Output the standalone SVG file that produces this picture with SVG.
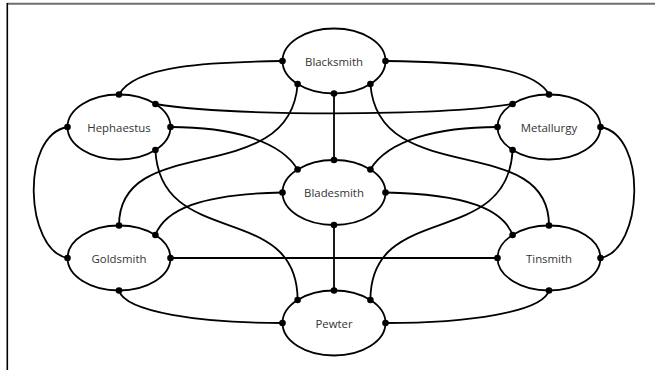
<svg xmlns="http://www.w3.org/2000/svg" width="655" height="370" viewBox="0 0 655 370">
  <style>
    .edge { fill: none; stroke: #000; stroke-width: 1.8; }
    .node ellipse { fill: #fff; stroke: #000; stroke-width: 1.8; }
    .node text { font-family: "Open Sans", "Liberation Sans", sans-serif; font-size: 11.4px; fill: #333; text-anchor: middle; }
    .port { fill: #000; }
  </style>
  <rect width="655" height="370" fill="#fff"/>
  <!-- frame: top and left edges -->
  <line x1="7" y1="3.8" x2="655" y2="3.8" stroke="#6e6e6e" stroke-width="2"/>
  <line x1="7.3" y1="3" x2="7.3" y2="370" stroke="#000" stroke-width="1.6"/>

  <g id="connectors">
    <path class="edge" d="M282.5 61 C210 62 135 65 119 94.5"/>
    <path class="edge" d="M385.5 61 C458 62 533 65 549 94.5"/>
    <path class="edge" d="M334 93.5 V160"/>
    <path class="edge" d="M297.6 84 C290 190 119 130 119 225.5"/>
    <path class="edge" d="M370.4 84 C378 190 549 130 549 225.5"/>
    <path class="edge" d="M155.4 104 C230 116.4 438 116.4 512.6 104"/>
    <path class="edge" d="M170.5 127 C230 127 280 140 297.6 169.5"/>
    <path class="edge" d="M497.5 127 C438 127 388 140 370.4 169.5"/>
    <path class="edge" d="M155.4 150 C160 250 297.6 200 297.6 300"/>
    <path class="edge" d="M512.6 150 C508 250 370.4 200 370.4 300"/>
    <path class="edge" d="M67.5 127 C20 135 25 250 67.5 258"/>
    <path class="edge" d="M600.5 127 C648 135 643 250 600.5 258"/>
    <path class="edge" d="M282.5 192.5 C200 194 165 210 155.4 235"/>
    <path class="edge" d="M385.5 192.5 C468 194 503 210 512.6 235"/>
    <path class="edge" d="M334 225 V290.5"/>
    <path class="edge" d="M170.5 258 H497.5"/>
    <path class="edge" d="M119 290.5 C125 312 200 323 282.5 323"/>
    <path class="edge" d="M549 290.5 C543 312 468 323 385.5 323"/>
  </g>

  <g id="blacksmith" class="node">
    <ellipse cx="334" cy="61" rx="51.5" ry="32.5"/>
    <text x="334" y="65.5">Blacksmith</text>
    <circle class="port" cx="282.5" cy="61" r="3.3"/>
    <circle class="port" cx="385.5" cy="61" r="3.3"/>
    <circle class="port" cx="297.6" cy="84" r="3.3"/>
    <circle class="port" cx="370.4" cy="84" r="3.3"/>
    <circle class="port" cx="334" cy="93.5" r="3.3"/>
  </g>

  <g id="hephaestus" class="node">
    <ellipse cx="119" cy="127" rx="51.5" ry="32.5"/>
    <text x="119" y="131.5">Hephaestus</text>
    <circle class="port" cx="119" cy="94.5" r="3.3"/>
    <circle class="port" cx="155.4" cy="104" r="3.3"/>
    <circle class="port" cx="170.5" cy="127" r="3.3"/>
    <circle class="port" cx="155.4" cy="150" r="3.3"/>
    <circle class="port" cx="67.5" cy="127" r="3.3"/>
  </g>

  <g id="metallurgy" class="node">
    <ellipse cx="549" cy="127" rx="51.5" ry="32.5"/>
    <text x="549" y="131.5">Metallurgy</text>
    <circle class="port" cx="549" cy="94.5" r="3.3"/>
    <circle class="port" cx="512.6" cy="104" r="3.3"/>
    <circle class="port" cx="497.5" cy="127" r="3.3"/>
    <circle class="port" cx="512.6" cy="150" r="3.3"/>
    <circle class="port" cx="600.5" cy="127" r="3.3"/>
  </g>

  <g id="bladesmith" class="node">
    <ellipse cx="334" cy="192.5" rx="51.5" ry="32.5"/>
    <text x="334" y="197">Bladesmith</text>
    <circle class="port" cx="334" cy="160" r="3.3"/>
    <circle class="port" cx="297.6" cy="169.5" r="3.3"/>
    <circle class="port" cx="370.4" cy="169.5" r="3.3"/>
    <circle class="port" cx="282.5" cy="192.5" r="3.3"/>
    <circle class="port" cx="385.5" cy="192.5" r="3.3"/>
    <circle class="port" cx="334" cy="225" r="3.3"/>
  </g>

  <g id="goldsmith" class="node">
    <ellipse cx="119" cy="258" rx="51.5" ry="32.5"/>
    <text x="119" y="262.5">Goldsmith</text>
    <circle class="port" cx="119" cy="225.5" r="3.3"/>
    <circle class="port" cx="155.4" cy="235" r="3.3"/>
    <circle class="port" cx="170.5" cy="258" r="3.3"/>
    <circle class="port" cx="119" cy="290.5" r="3.3"/>
    <circle class="port" cx="67.5" cy="258" r="3.3"/>
  </g>

  <g id="tinsmith" class="node">
    <ellipse cx="549" cy="258" rx="51.5" ry="32.5"/>
    <text x="549" y="262.5">Tinsmith</text>
    <circle class="port" cx="549" cy="225.5" r="3.3"/>
    <circle class="port" cx="512.6" cy="235" r="3.3"/>
    <circle class="port" cx="497.5" cy="258" r="3.3"/>
    <circle class="port" cx="549" cy="290.5" r="3.3"/>
    <circle class="port" cx="600.5" cy="258" r="3.3"/>
  </g>

  <g id="pewter" class="node">
    <ellipse cx="334" cy="323" rx="51.5" ry="32.5"/>
    <text x="334" y="327.5">Pewter</text>
    <circle class="port" cx="334" cy="290.5" r="3.3"/>
    <circle class="port" cx="297.6" cy="300" r="3.3"/>
    <circle class="port" cx="370.4" cy="300" r="3.3"/>
    <circle class="port" cx="282.5" cy="323" r="3.3"/>
    <circle class="port" cx="385.5" cy="323" r="3.3"/>
  </g>
</svg>
